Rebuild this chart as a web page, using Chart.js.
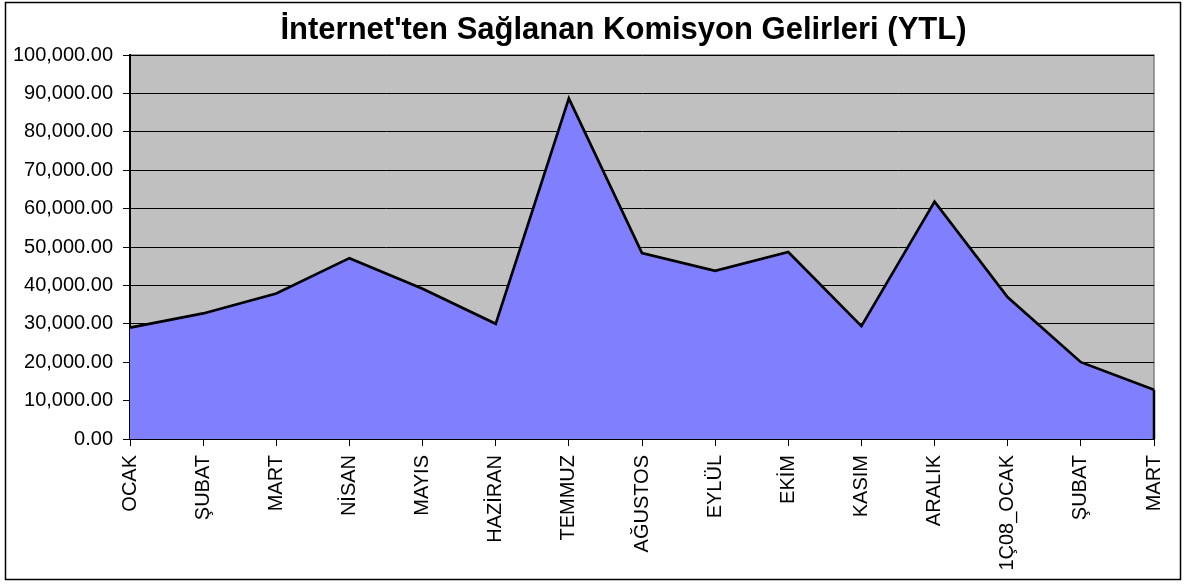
<!DOCTYPE html>
<html>
<head>
<meta charset="utf-8">
<script src="https://cdn.jsdelivr.net/npm/chart.js@4/dist/chart.umd.min.js"></script>
<style>
  html, body { margin: 0; padding: 0; background: #ffffff; }
  #wrap { position: relative; width: 1187px; height: 585px; }
  canvas { display: block; }
</style>
</head>
<body>
<div id="wrap"><canvas id="c" width="1187" height="585"></canvas></div>
<script>
const titleText = "İnternet'ten Sağlanan Komisyon Gelirleri (YTL)";
const categories = ["OCAK", "ŞUBAT", "MART", "NİSAN", "MAYIS", "HAZİRAN", "TEMMUZ", "AĞUSTOS", "EYLÜL", "EKİM", "KASIM", "ARALIK", "1Ç08_OCAK", "ŞUBAT", "MART"];
const revenues = [29000, 32700, 37900, 47100, 39100, 30000, 88700, 48400, 43800, 48700, 29400, 61800, 36900, 20000, 12800];
const yMin = 0;
const yMax = 100000;
const yStep = 10000;

const fmt = v => Number(v).toLocaleString('en-US', { minimumFractionDigits: 2, maximumFractionDigits: 2 });

const decor = {
  id: 'decor',
  afterLayout(chart) {
    const tb = chart.titleBlock;
    if (tb) { const shift = 623.5 - (tb.left + tb.right) / 2; tb.left += shift; tb.right += shift; }
  },
  beforeDraw(chart) {
    const { ctx, chartArea: a } = chart;
    ctx.save();
    ctx.fillStyle = '#ffffff';
    ctx.fillRect(0, 0, chart.width, chart.height);
    ctx.strokeStyle = '#000000';
    ctx.lineWidth = 1.5;
    ctx.strokeRect(5.5, 2.5, 1175, 577);
    ctx.fillStyle = '#C0C0C0';
    ctx.fillRect(a.left, a.top, a.right - a.left, a.bottom - a.top);
    ctx.strokeStyle = '#808080';
    ctx.lineWidth = 1.5;
    ctx.strokeRect(a.left, a.top, a.right - a.left, a.bottom - a.top);
    ctx.restore();
  },
  afterDatasetsDraw(chart) {
    const meta = chart.getDatasetMeta(0);
    const pts = meta.data;
    if (!pts.length) return;
    const last = pts[pts.length - 1];
    const y0 = chart.scales.y.getPixelForValue(0);
    const ctx = chart.ctx;
    ctx.save();
    ctx.strokeStyle = '#000000';
    ctx.lineWidth = 2.5;
    ctx.beginPath();
    ctx.moveTo(last.x, last.y);
    ctx.lineTo(last.x, y0);
    ctx.stroke();
    ctx.restore();
  }
};

new Chart(document.getElementById('c'), {
  type: 'line',
  data: {
    labels: categories,
    datasets: [{
      label: 'Komisyon Gelirleri',
      data: revenues,
      fill: 'origin',
      backgroundColor: '#8080FF',
      borderColor: '#000000',
      borderWidth: 2.7,
      pointRadius: 0,
      tension: 0
    }]
  },
  options: {
    responsive: false,
    animation: false,
    devicePixelRatio: 1,
    layout: { padding: { left: 0, right: 31, top: 0, bottom: 0 } },
    plugins: {
      legend: { display: false },
      tooltip: { enabled: false },
      title: {
        display: true,
        text: titleText,
        color: '#000000',
        font: { family: 'Liberation Sans, Arial, sans-serif', size: 31, weight: 'bold' },
        padding: { top: 12, bottom: 5.8 }
      }
    },
    scales: {
      x: {
        offset: false,
        afterFit(s) { s.height = 146; },
        grid: { drawOnChartArea: false, drawTicks: true, tickLength: 7, color: '#000000', lineWidth: 1 },
        border: { display: true, color: '#000000', width: 2 },
        ticks: {
          autoSkip: false,
          minRotation: 90,
          maxRotation: 90,
          padding: 9,
          color: '#000000',
          font: { family: 'Liberation Sans, Arial, sans-serif', size: 20 }
        }
      },
      y: {
        min: yMin,
        max: yMax,
        afterFit(s) { s.width = 130; },
        grid: { drawOnChartArea: true, drawTicks: true, tickLength: 7, color: '#000000', lineWidth: 1 },
        border: { display: true, color: '#000000', width: 2 },
        ticks: {
          stepSize: yStep,
          padding: 10,
          color: '#000000',
          font: { family: 'Liberation Sans, Arial, sans-serif', size: 20 },
          callback: v => fmt(v)
        }
      }
    }
  },
  plugins: [decor]
});
</script>
</body>
</html>
